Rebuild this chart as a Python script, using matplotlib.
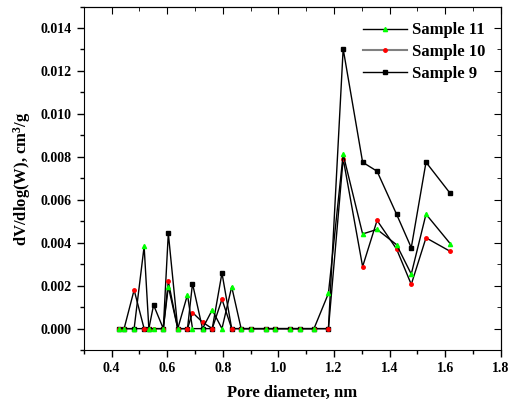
import matplotlib
matplotlib.use('Agg')
import matplotlib.pyplot as plt
from matplotlib.lines import Line2D
from matplotlib.ticker import MultipleLocator

plt.rcParams['font.family'] = ['Liberation Serif', 'DejaVu Serif']
plt.rcParams['font.weight'] = 'bold'
plt.rcParams['mathtext.default'] = 'regular'

# pore diameter grid, nm
diam = [0.427, 0.445, 0.481, 0.517, 0.534, 0.551, 0.586, 0.604, 0.638, 0.673,
        0.691, 0.727, 0.762, 0.797, 0.832, 0.866, 0.901, 0.954, 0.988, 1.041,
        1.076, 1.128, 1.180, 1.233, 1.303, 1.355, 1.425, 1.478, 1.531, 1.618]

s11 = [0, 0, 0, 0.00383, 0, 0, 0, 0.00196, 0, 0.00158,
       0, 0, 0.00087, 0, 0.00195, 0, 0, 0, 0, 0,
       0, 0, 0.00164, 0.00812, 0.00441, 0.00462, 0.00391, 0.00254, 0.00533, 0.00396]
s10 = [0, 0, 0.0018, 0, 0, 0, 0, 0.0022, 0, 0,
       0.00075, 0.0003, 0, 0.00137, 0, 0, 0, 0, 0, 0,
       0, 0, 0, 0.00792, 0.00289, 0.00504, 0.00371, 0.00206, 0.00423, 0.0036]
s9 = [0, 0, 0, 0, 0, 0.0011, 0, 0.00444, 0, 0,
      0.0021, 0, 0, 0.00259, 0, 0, 0, 0, 0, 0,
      0, 0, 0, 0.01303, 0.00775, 0.00733, 0.00533, 0.00377, 0.00775, 0.0063]

fig = plt.figure(figsize=(5.11, 4.09), dpi=100)
ax = fig.add_axes([0.164, 0.144, 0.816, 0.840])

ax.plot(diam, s9, color='black', lw=1, marker='s', ms=2.3, mfc='black', mec='black')
ax.plot(diam, s10, color='black', lw=1, marker='o', ms=2.5, mfc='red', mec='red')
ax.plot(diam, s11, color='black', lw=1, marker='^', ms=3, mfc='#00ff00', mec='#00ff00')

ax.set_xlim(0.3, 1.8)
ax.set_ylim(-0.001, 0.015)
ax.xaxis.set_minor_locator(MultipleLocator(0.1))
ax.yaxis.set_minor_locator(MultipleLocator(0.001))
ax.set_xticks([0.4, 0.6, 0.8, 1.0, 1.2, 1.4, 1.6, 1.8])
ax.set_yticks([0, 0.002, 0.004, 0.006, 0.008, 0.010, 0.012, 0.014])
ax.set_yticklabels(['%.3f' % v for v in ax.get_yticks()])
ax.set_xticklabels(['%.1f' % v for v in ax.get_xticks()])
ax.tick_params(which='major', direction='out', length=5, width=1, labelsize=10)
ax.tick_params(which='minor', direction='out', length=3, width=1)

# mirrored ticks on top and right, pointing in
top = ax.secondary_xaxis('top')
top.xaxis.set_major_locator(MultipleLocator(0.2))
top.xaxis.set_minor_locator(MultipleLocator(0.1))
top.tick_params(which='major', direction='in', length=5, labeltop=False)
top.tick_params(which='minor', direction='in', length=3)
right = ax.secondary_yaxis('right')
right.yaxis.set_major_locator(MultipleLocator(0.002))
right.yaxis.set_minor_locator(MultipleLocator(0.001))
right.tick_params(which='major', direction='in', length=5, labelright=False)
right.tick_params(which='minor', direction='in', length=3)

ax.set_xlabel('Pore diameter, nm', fontsize=12, fontweight='bold', labelpad=7)
ax.set_ylabel('dV/dlog(W), cm$^3$/g', fontsize=12, fontweight='bold', labelpad=6)

handles = [
    Line2D([], [], color='black', lw=1, marker='^', ms=3, mfc='#00ff00', mec='#00ff00'),
    Line2D([], [], color='gray', lw=1.5, marker='o', ms=2.5, mfc='red', mec='red'),
    Line2D([], [], color='black', lw=1, marker='s', ms=2.3, mfc='black', mec='black'),
]
ax.legend(handles, ['Sample 11', 'Sample 10', 'Sample 9'], loc='upper right',
          frameon=False, fontsize=12, handlelength=2.6, labelspacing=0.35,
          handletextpad=0.3, borderaxespad=0.55, bbox_to_anchor=(1.0, 1.0))

fig.savefig('out.png', dpi=100)
